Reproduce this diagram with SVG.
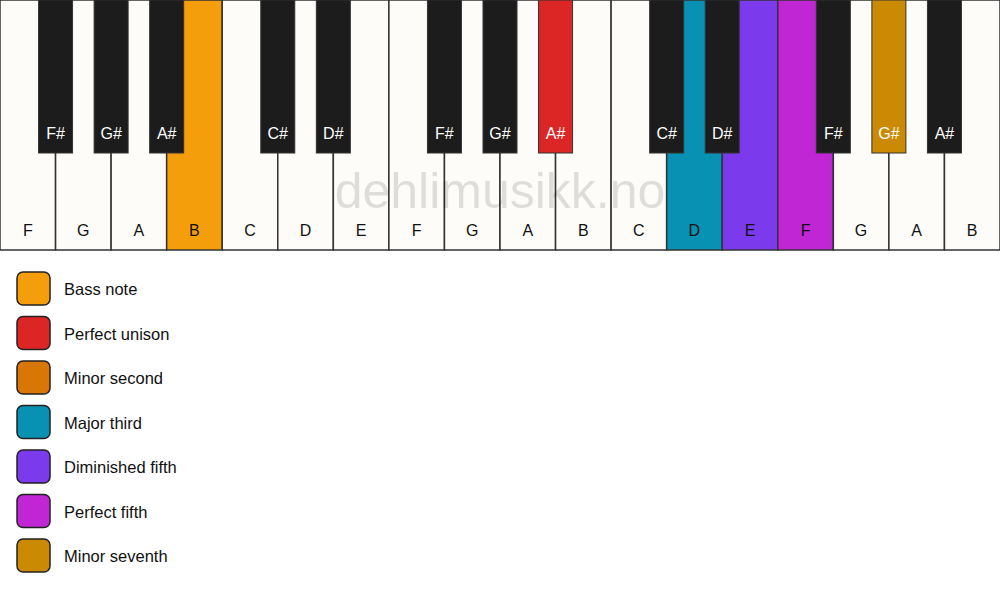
<svg xmlns="http://www.w3.org/2000/svg" width="1000" height="594" viewBox="0 0 1000 594">
<style>
.w{fill:#fdfcf9;stroke:#333;stroke-width:1.5}
.b{fill:#1c1c1c;stroke:#333;stroke-width:1}
.wl{font-family:"Liberation Sans",Arial,sans-serif;font-size:16px;fill:#111;text-anchor:middle}
.bl{font-family:"Liberation Sans",Arial,sans-serif;font-size:16px;fill:#fff;text-anchor:middle}
.lg{stroke:#222;stroke-width:1.5}
.lt{font-family:"Liberation Sans",Arial,sans-serif;font-size:16.5px;fill:#111}
.wm{font-family:"Liberation Sans",Arial,sans-serif;font-size:50px;fill:#000;fill-opacity:0.12;text-anchor:middle}
</style>
<rect width="1000" height="594" fill="#fff"/>
<g id="white-keys">
<g id="w0"><rect class="w" x="0" y="0" width="55.56" height="250"/><text class="wl" x="27.8" y="236">F</text></g>
<g id="w1"><rect class="w" x="55.56" y="0" width="55.56" height="250"/><text class="wl" x="83.3" y="236">G</text></g>
<g id="w2"><rect class="w" x="111.11" y="0" width="55.56" height="250"/><text class="wl" x="138.9" y="236">A</text></g>
<g id="w3"><rect class="w" x="166.67" y="0" width="55.56" height="250" style="fill:#f59e0b"/><text class="wl" x="194.4" y="236">B</text></g>
<g id="w4"><rect class="w" x="222.22" y="0" width="55.56" height="250"/><text class="wl" x="250" y="236">C</text></g>
<g id="w5"><rect class="w" x="277.78" y="0" width="55.56" height="250"/><text class="wl" x="305.6" y="236">D</text></g>
<g id="w6"><rect class="w" x="333.33" y="0" width="55.56" height="250"/><text class="wl" x="361.1" y="236">E</text></g>
<g id="w7"><rect class="w" x="388.89" y="0" width="55.56" height="250"/><text class="wl" x="416.7" y="236">F</text></g>
<g id="w8"><rect class="w" x="444.44" y="0" width="55.56" height="250"/><text class="wl" x="472.2" y="236">G</text></g>
<g id="w9"><rect class="w" x="500" y="0" width="55.56" height="250"/><text class="wl" x="527.8" y="236">A</text></g>
<g id="w10"><rect class="w" x="555.56" y="0" width="55.56" height="250"/><text class="wl" x="583.3" y="236">B</text></g>
<g id="w11"><rect class="w" x="611.11" y="0" width="55.56" height="250"/><text class="wl" x="638.9" y="236">C</text></g>
<g id="w12"><rect class="w" x="666.67" y="0" width="55.56" height="250" style="fill:#0891b2"/><text class="wl" x="694.4" y="236">D</text></g>
<g id="w13"><rect class="w" x="722.22" y="0" width="55.56" height="250" style="fill:#7c3aed"/><text class="wl" x="750" y="236">E</text></g>
<g id="w14"><rect class="w" x="777.78" y="0" width="55.56" height="250" style="fill:#c026d3"/><text class="wl" x="805.6" y="236">F</text></g>
<g id="w15"><rect class="w" x="833.33" y="0" width="55.56" height="250"/><text class="wl" x="861.1" y="236">G</text></g>
<g id="w16"><rect class="w" x="888.89" y="0" width="55.56" height="250"/><text class="wl" x="916.7" y="236">A</text></g>
<g id="w17"><rect class="w" x="944.44" y="0" width="55.56" height="250"/><text class="wl" x="972.2" y="236">B</text></g>
</g>
<text class="wm" x="500" y="208">dehlimusikk.no</text>
<g id="black-keys">
<g id="b0"><rect class="b" x="38.56" y="0" width="34" height="153"/><text class="bl" x="55.56" y="139">F#</text></g>
<g id="b1"><rect class="b" x="94.11" y="0" width="34" height="153"/><text class="bl" x="111.11" y="139">G#</text></g>
<g id="b2"><rect class="b" x="149.67" y="0" width="34" height="153"/><text class="bl" x="166.67" y="139">A#</text></g>
<g id="b3"><rect class="b" x="260.78" y="0" width="34" height="153"/><text class="bl" x="277.78" y="139">C#</text></g>
<g id="b4"><rect class="b" x="316.33" y="0" width="34" height="153"/><text class="bl" x="333.33" y="139">D#</text></g>
<g id="b5"><rect class="b" x="427.44" y="0" width="34" height="153"/><text class="bl" x="444.44" y="139">F#</text></g>
<g id="b6"><rect class="b" x="483" y="0" width="34" height="153"/><text class="bl" x="500" y="139">G#</text></g>
<g id="b7"><rect class="b" x="538.56" y="0" width="34" height="153" style="fill:#dc2626"/><text class="bl" x="555.56" y="139">A#</text></g>
<g id="b8"><rect class="b" x="649.67" y="0" width="34" height="153"/><text class="bl" x="666.67" y="139">C#</text></g>
<g id="b9"><rect class="b" x="705.22" y="0" width="34" height="153"/><text class="bl" x="722.22" y="139">D#</text></g>
<g id="b10"><rect class="b" x="816.33" y="0" width="34" height="153"/><text class="bl" x="833.33" y="139">F#</text></g>
<g id="b11"><rect class="b" x="871.89" y="0" width="34" height="153" style="fill:#ca8a04"/><text class="bl" x="888.89" y="139">G#</text></g>
<g id="b12"><rect class="b" x="927.44" y="0" width="34" height="153"/><text class="bl" x="944.44" y="139">A#</text></g>
</g>
<g id="legend">
<g id="l0"><rect class="lg" x="17" y="272" width="33" height="33" rx="6" fill="#f59e0b"/><text class="lt" x="64" y="295">Bass note</text></g>
<g id="l1"><rect class="lg" x="17" y="316.5" width="33" height="33" rx="6" fill="#dc2626"/><text class="lt" x="64" y="339.5">Perfect unison</text></g>
<g id="l2"><rect class="lg" x="17" y="361" width="33" height="33" rx="6" fill="#d97706"/><text class="lt" x="64" y="384">Minor second</text></g>
<g id="l3"><rect class="lg" x="17" y="405.5" width="33" height="33" rx="6" fill="#0891b2"/><text class="lt" x="64" y="428.5">Major third</text></g>
<g id="l4"><rect class="lg" x="17" y="450" width="33" height="33" rx="6" fill="#7c3aed"/><text class="lt" x="64" y="473">Diminished fifth</text></g>
<g id="l5"><rect class="lg" x="17" y="494.5" width="33" height="33" rx="6" fill="#c026d3"/><text class="lt" x="64" y="517.5">Perfect fifth</text></g>
<g id="l6"><rect class="lg" x="17" y="539" width="33" height="33" rx="6" fill="#ca8a04"/><text class="lt" x="64" y="562">Minor seventh</text></g>
</g>
</svg>
